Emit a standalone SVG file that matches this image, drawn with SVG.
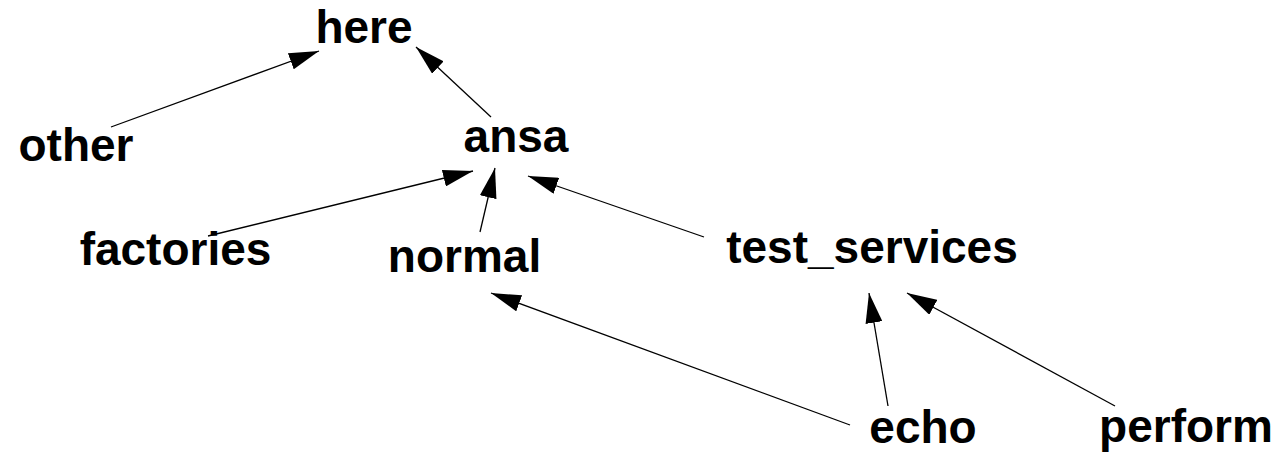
<svg xmlns="http://www.w3.org/2000/svg" width="1281" height="453" viewBox="0 0 1281 453">
<style>
text { font-family: "Liberation Sans", Arial, sans-serif; font-weight: bold; font-size: 46px; fill: #000; text-anchor: middle; }
.edge { stroke: #000; stroke-width: 1.3; fill: none; marker-end: url(#arrow); }
</style>
<defs>
<marker id="arrow" markerUnits="userSpaceOnUse" markerWidth="30" markerHeight="17" refX="30" refY="8.5" orient="auto">
<path d="M0,0 L30,8.5 L0,17 z" fill="#000"/>
</marker>
</defs>
<rect width="1281" height="453" fill="#fff"/>
<g id="connectors">
<line class="edge" x1="111" y1="127" x2="319" y2="51"/>
<line class="edge" x1="491" y1="117" x2="416" y2="47"/>
<line class="edge" x1="208" y1="236" x2="473" y2="171"/>
<line class="edge" x1="480" y1="232" x2="495" y2="168"/>
<line class="edge" x1="704" y1="237" x2="528" y2="176"/>
<line class="edge" x1="850" y1="425" x2="491" y2="293"/>
<line class="edge" x1="888" y1="406" x2="869" y2="293"/>
<line class="edge" x1="1115" y1="406" x2="907" y2="293"/>
</g>
<g id="here"><text x="364" y="43">here</text></g>
<g id="other"><text x="76" y="161">other</text></g>
<g id="ansa"><text x="516" y="152">ansa</text></g>
<g id="factories"><text x="175.5" y="265">factories</text></g>
<g id="normal"><text x="464.5" y="272">normal</text></g>
<g id="test_services"><text x="872" y="263">test_services</text></g>
<g id="echo"><text x="923" y="443">echo</text></g>
<g id="perform"><text x="1186" y="442">perform</text></g>
</svg>
